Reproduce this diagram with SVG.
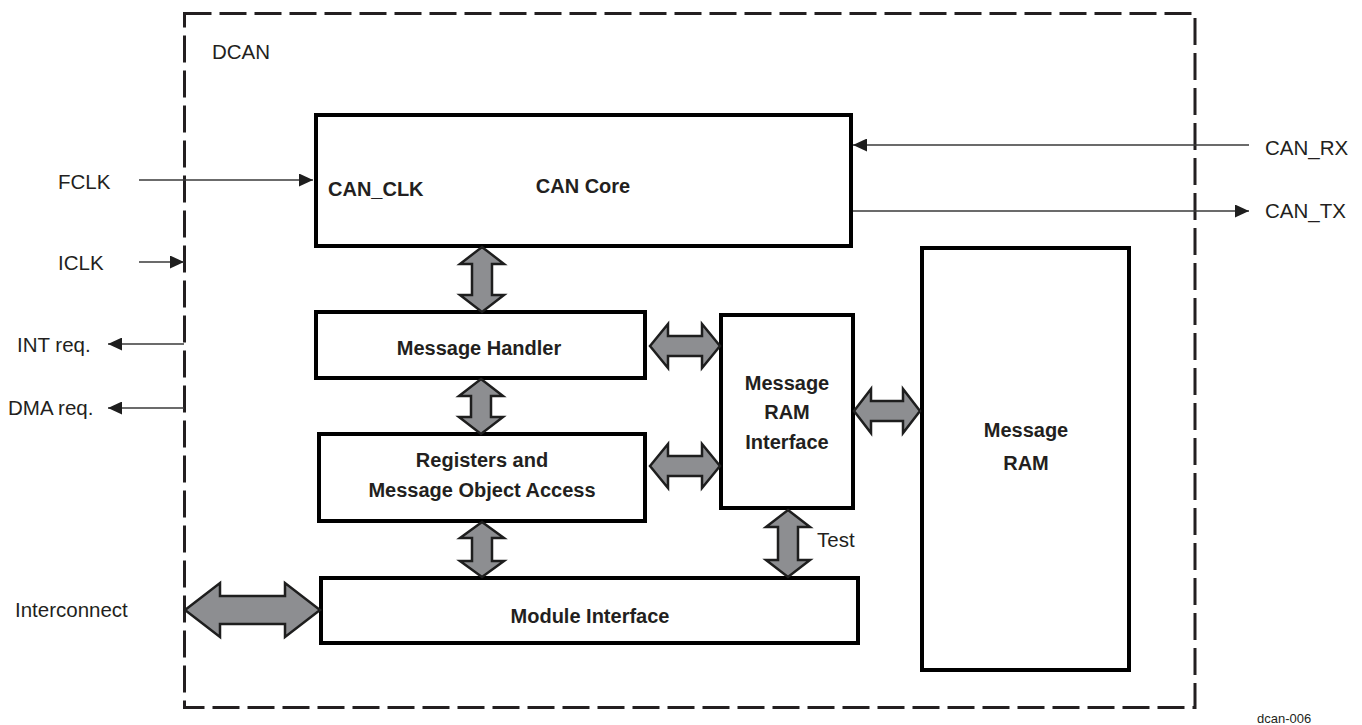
<svg xmlns="http://www.w3.org/2000/svg" width="1362" height="725" viewBox="0 0 1362 725">
<defs>
<style>
.box{fill:#fff;stroke:#000;stroke-width:4}
.fat{fill:#8d8e91;stroke:#1e1e1e;stroke-width:2.5;stroke-linejoin:miter}
.wire{fill:none;stroke:#3a3a3a;stroke-width:1.6}
.lbl{font-family:"Liberation Sans",Arial,sans-serif;font-size:20.5px;fill:#231f20}
.bold{font-family:"Liberation Sans",Arial,sans-serif;font-size:20px;font-weight:bold;fill:#231f20;text-anchor:middle}
</style>
<marker id="ah" markerUnits="userSpaceOnUse" markerWidth="15" markerHeight="13" refX="14" refY="6.5" orient="auto">
<path d="M0,0 L14,6.5 L0,13 z" fill="#1e1e1e"/>
</marker>
</defs>
<rect width="1362" height="725" fill="#fff"/>
<g id="dcan">
<rect x="184.5" y="13.5" width="1010.5" height="694" fill="none" stroke="#231f20" stroke-width="3" stroke-dasharray="27 8"/>
<text class="lbl" x="212" y="59">DCAN</text>
</g>
<g id="can-core">
<rect class="box" x="316" y="115" width="535" height="131"/>
<text class="bold" x="328" y="196" style="text-anchor:start">CAN_CLK</text>
<text class="bold" x="583" y="193">CAN Core</text>
</g>
<g id="message-handler">
<rect class="box" x="316" y="312" width="329" height="66"/>
<text class="bold" x="479" y="355">Message Handler</text>
</g>
<g id="registers">
<rect class="box" x="319" y="434" width="326" height="87"/>
<text class="bold" x="482" y="467">Registers and</text>
<text class="bold" x="482" y="497">Message Object Access</text>
</g>
<g id="message-ram-interface">
<rect class="box" x="721" y="315" width="132" height="193"/>
<text class="bold" x="787" y="390">Message</text>
<text class="bold" x="787" y="419">RAM</text>
<text class="bold" x="787" y="449">Interface</text>
</g>
<g id="message-ram">
<rect class="box" x="922" y="248" width="207" height="422"/>
<text class="bold" x="1026" y="437">Message</text>
<text class="bold" x="1026" y="470">RAM</text>
</g>
<g id="module-interface">
<rect class="box" x="321" y="578" width="537" height="65"/>
<text class="bold" x="590" y="623">Module Interface</text>
</g>
<g id="labels">
<text class="lbl" x="58" y="189">FCLK</text>
<text class="lbl" x="58" y="270">ICLK</text>
<text class="lbl" x="17" y="352">INT req.</text>
<text class="lbl" x="8" y="415">DMA req.</text>
<text class="lbl" x="15" y="617">Interconnect</text>
<text class="lbl" x="1265" y="155">CAN_RX</text>
<text class="lbl" x="1265" y="218">CAN_TX</text>
<text class="lbl" x="817" y="547">Test</text>
<text class="lbl" x="1257" y="723" style="font-size:13px">dcan-006</text>
</g>
<g id="connectors">
<line class="wire" x1="139" y1="180" x2="313" y2="180" marker-end="url(#ah)"/>
<line class="wire" x1="139" y1="262" x2="184" y2="262" marker-end="url(#ah)"/>
<line class="wire" x1="1249" y1="145" x2="853" y2="145" marker-end="url(#ah)"/>
<line class="wire" x1="853" y1="211" x2="1249" y2="211" marker-end="url(#ah)"/>
<line class="wire" x1="184" y1="344" x2="108" y2="344" stroke-width="2" marker-end="url(#ah)"/>
<line class="wire" x1="184" y1="408" x2="108" y2="408" stroke-width="2" marker-end="url(#ah)"/>
<polygon class="fat" points="482,247 504,264 492,264 492,295 504,295 482,312 460,295 472,295 472,264 460,264"/>
<polygon class="fat" points="481,379 503,396 491,396 491,417 503,417 481,434 459,417 471,417 471,396 459,396"/>
<polygon class="fat" points="482,522 504,538 492,538 492,561 504,561 482,577 460,561 472,561 472,538 460,538"/>
<polygon class="fat" points="788,510 810,527 798,527 798,560 810,560 788,577 766,560 778,560 778,527 766,527"/>
<polygon class="fat" points="650,346 668,324 668,336 702,336 702,324 720,346 702,368 702,356 668,356 668,368"/>
<polygon class="fat" points="650,466 668,444 668,456 702,456 702,444 720,466 702,488 702,476 668,476 668,488"/>
<polygon class="fat" points="854,411 871,389 871,401 903,401 903,389 920,411 903,433 903,421 871,421 871,433"/>
<polygon class="fat" points="185,610 220,583 220,596 285,596 285,583 320,610 285,637 285,624 220,624 220,637"/>
</g>
</svg>
